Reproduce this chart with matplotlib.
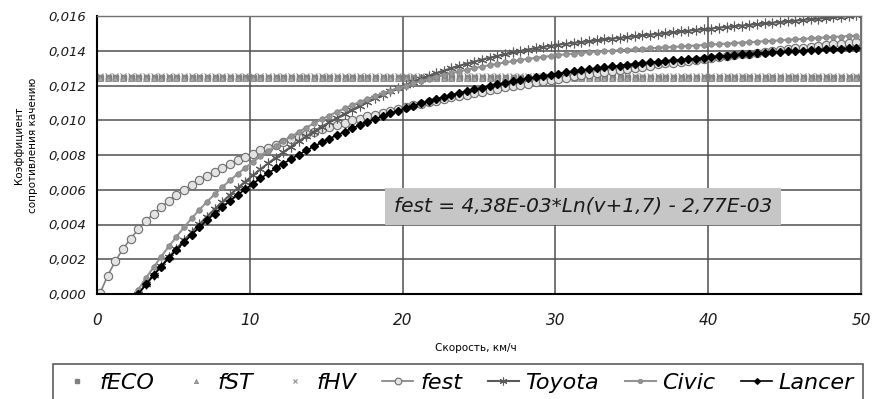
import numpy as np
import matplotlib
matplotlib.use('Agg')
import matplotlib.pyplot as plt
from matplotlib.ticker import FuncFormatter, MultipleLocator

plt.rcParams['font.family'] = ['DejaVu Sans']

# speed grid, km/h (one point every 0.5 km/h)
speed = np.arange(0.2, 50, 0.5)

# rolling resistance coefficients, values in 1e-3
f_eco = np.full(speed.size, 12.50)
f_st = np.full(speed.size, 12.42)
f_hv = np.full(speed.size, 12.52)

f_est = [0.04, 1.06, 1.89, 2.59, 3.19, 3.72, 4.19, 4.62, 5.00, 5.36,
         5.69, 6.00, 6.28, 6.55, 6.81, 7.04, 7.27, 7.49, 7.69, 7.89,
         8.08, 8.26, 8.43, 8.60, 8.76, 8.91, 9.06, 9.21, 9.35, 9.48,
         9.61, 9.74, 9.87, 9.99, 10.10, 10.22, 10.33, 10.44, 10.54, 10.65,
         10.75, 10.85, 10.94, 11.04, 11.13, 11.22, 11.31, 11.40, 11.48, 11.57,
         11.65, 11.73, 11.81, 11.89, 11.96, 12.04, 12.11, 12.19, 12.26, 12.33,
         12.40, 12.46, 12.53, 12.60, 12.66, 12.73, 12.79, 12.85, 12.91, 12.97,
         13.03, 13.09, 13.15, 13.21, 13.27, 13.32, 13.38, 13.43, 13.48, 13.54,
         13.59, 13.64, 13.69, 13.74, 13.79, 13.84, 13.89, 13.94, 13.99, 14.04,
         14.08, 14.13, 14.18, 14.22, 14.27, 14.31, 14.36, 14.40, 14.44, 14.49]

toyota = [None, None, None, None, -0.50, 0.00, 0.55, 1.09, 1.61, 2.12,
          2.61, 3.10, 3.57, 4.02, 4.46, 4.89, 5.30, 5.70, 6.09, 6.47,
          6.83, 7.18, 7.52, 7.85, 8.17, 8.48, 8.78, 9.07, 9.35, 9.62,
          9.88, 10.13, 10.37, 10.60, 10.83, 11.05, 11.26, 11.47, 11.67, 11.86,
          12.04, 12.22, 12.39, 12.55, 12.71, 12.85, 13.00, 13.13, 13.26, 13.38,
          13.49, 13.60, 13.70, 13.80, 13.90, 13.98, 14.07, 14.15, 14.22, 14.29,
          14.35, 14.40, 14.45, 14.50, 14.55, 14.60, 14.65, 14.70, 14.74, 14.79,
          14.84, 14.88, 14.93, 14.97, 15.02, 15.06, 15.11, 15.15, 15.20, 15.24,
          15.28, 15.33, 15.37, 15.41, 15.45, 15.49, 15.53, 15.57, 15.61, 15.65,
          15.69, 15.73, 15.77, 15.81, 15.85, 15.88, 15.92, 15.96, 15.99, 16.03]

civic = [None, None, None, None, -0.40, 0.25, 0.92, 1.54, 2.15, 2.74,
         3.30, 3.84, 4.36, 4.85, 5.31, 5.74, 6.15, 6.54, 6.91, 7.26,
         7.60, 7.92, 8.23, 8.52, 8.80, 9.07, 9.33, 9.58, 9.82, 10.05,
         10.27, 10.48, 10.68, 10.87, 11.05, 11.22, 11.39, 11.55, 11.70, 11.85,
         11.99, 12.12, 12.25, 12.37, 12.49, 12.60, 12.71, 12.81, 12.91, 13.00,
         13.09, 13.17, 13.25, 13.33, 13.40, 13.47, 13.53, 13.59, 13.65, 13.70,
         13.75, 13.80, 13.84, 13.88, 13.92, 13.95, 13.97, 14.00, 14.03, 14.06,
         14.08, 14.11, 14.14, 14.17, 14.19, 14.22, 14.25, 14.28, 14.30, 14.33,
         14.36, 14.38, 14.41, 14.44, 14.47, 14.49, 14.52, 14.55, 14.57, 14.60,
         14.63, 14.66, 14.68, 14.71, 14.74, 14.77, 14.79, 14.82, 14.85, 14.87]

lancer = [None, None, None, None, -0.57, 0.00, 0.55, 1.07, 1.58, 2.07,
          2.54, 2.99, 3.42, 3.84, 4.24, 4.63, 5.00, 5.36, 5.70, 6.03,
          6.35, 6.66, 6.95, 7.23, 7.51, 7.77, 8.02, 8.26, 8.50, 8.72,
          8.94, 9.14, 9.34, 9.54, 9.72, 9.90, 10.07, 10.23, 10.39, 10.55,
          10.69, 10.83, 10.97, 11.10, 11.22, 11.35, 11.46, 11.57, 11.68, 11.78,
          11.88, 11.98, 12.07, 12.16, 12.24, 12.33, 12.41, 12.48, 12.55, 12.62,
          12.69, 12.76, 12.82, 12.88, 12.94, 12.99, 13.05, 13.10, 13.15, 13.20,
          13.24, 13.29, 13.33, 13.37, 13.41, 13.45, 13.48, 13.52, 13.55, 13.58,
          13.65, 13.68, 13.72, 13.75, 13.79, 13.81, 13.85, 13.87, 13.90, 13.93,
          13.96, 13.98, 14.01, 14.04, 14.05, 14.08, 14.10, 14.12, 14.14, 14.15]


def coef(vals):
    return np.array(vals, dtype=float) * 1e-3


fig = plt.figure(figsize=(8.72, 3.99), dpi=100)
ax = fig.add_axes([97 / 872, 1 - 294 / 399, 764 / 872, 278 / 399])

ax.plot(speed, coef(f_eco), ls='none', marker='s', ms=3.6, mfc='#808080', mec='#808080', label='fECO')
ax.plot(speed, coef(f_st), ls='none', marker='^', ms=3.8, mfc='#a6a6a6', mec='#7a7a7a', mew=0.5, label='fST')
ax.plot(speed, coef(f_hv), ls='none', marker='x', ms=3.8, mec='#8c8c8c', mew=0.8, label='fHV')
ax.plot(speed, coef(f_est), color='#7f7f7f', lw=1.2, marker='o', ms=6, mfc='#e3e3e3',
        mec='#6e6e6e', mew=0.8, label='fest')
ax.plot(speed, coef(toyota), color='#5a5a5a', lw=1.5, marker=(6, 2, 0), ms=7,
        mec='#5a5a5a', mew=0.8, label='Toyota')
ax.plot(speed, coef(civic), color='#959595', lw=1.5, marker='o', ms=4, mfc='#959595',
        mec='#808080', mew=0.5, label='Civic')
ax.plot(speed, coef(lancer), color='black', lw=1.2, marker='D', ms=3.6, mfc='black',
        mec='black', label='Lancer')

ax.set_xlim(0, 50)
ax.set_ylim(0, 0.016)
ax.xaxis.set_major_locator(MultipleLocator(10))
ax.yaxis.set_major_locator(MultipleLocator(0.002))
ax.yaxis.set_major_formatter(FuncFormatter(lambda v, p: f'{v:.3f}'.replace('.', ',')))
ax.set_axisbelow(True)
ax.grid(True, color='#505050', lw=1.1)
ax.tick_params(axis='both', length=0, colors='#1a1a1a')
ax.tick_params(axis='y', pad=8, labelsize=9.5)
ax.tick_params(axis='x', pad=14, labelsize=11)
for lab in ax.get_xticklabels() + ax.get_yticklabels():
    lab.set_fontstyle('italic')
for side in ['left', 'bottom']:
    ax.spines[side].set_color('black')
    ax.spines[side].set_linewidth(1.5)
for side in ['top', 'right']:
    ax.spines[side].set_color('#707070')
    ax.spines[side].set_linewidth(1.0)

ax.text(31.8, 0.00505, 'fest = 4,38E-03*Ln(v+1,7) - 2,77E-03', ha='center', va='center',
        fontsize=14.5, style='italic', color='#1a1a1a', zorder=5,
        bbox=dict(boxstyle='square,pad=0.45', fc='#c6c6c6', ec='none'))

fig.text(476 / 872, 1 - 348 / 399, 'Скорость, км/ч', ha='center', va='center', fontsize=7.5)
fig.text(26 / 872, 1 - 145 / 399, 'Коэффициент\nсопротивления качению', ha='center', va='center',
         rotation=90, fontsize=7.5, linespacing=1.4)

leg = fig.legend(loc='upper left', bbox_to_anchor=(53 / 872, 0.0, 810 / 872, 1 - 364 / 399),
                 mode='expand', ncol=7, borderaxespad=0, markerscale=0.8,
                 handlelength=1.4, handletextpad=0.3, fancybox=False, frameon=True,
                 prop={'style': 'italic', 'size': 16})
leg.get_frame().set_edgecolor('#333333')
leg.get_frame().set_linewidth(1.2)

fig.savefig('out.png', dpi=100)
